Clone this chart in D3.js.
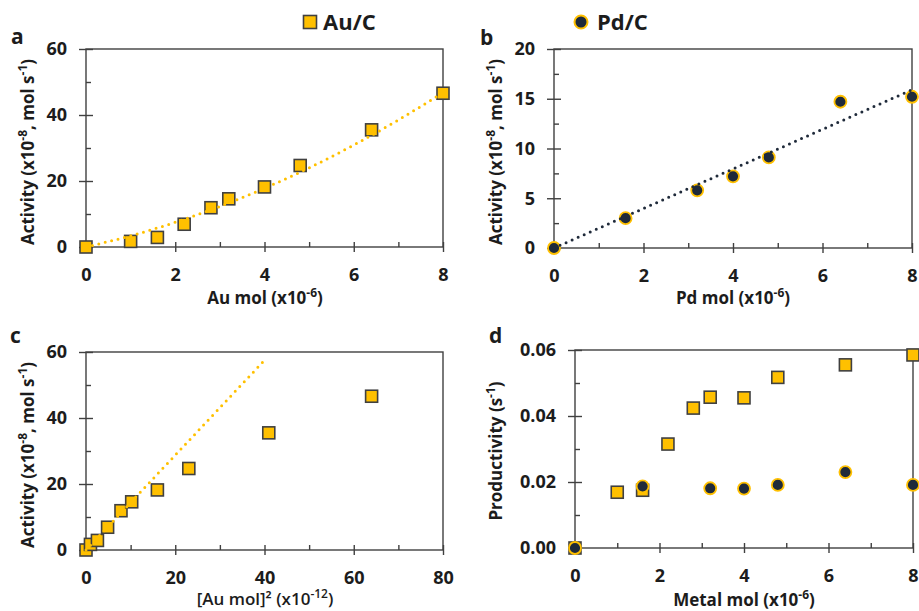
<!DOCTYPE html>
<html><head><meta charset="utf-8">
<script src="https://cdn.jsdelivr.net/npm/d3@7"></script>
<style>
body{margin:0;background:#fff}
text{font-family:"Open Sans",Lato,sans-serif;}
</style>
</head><body>
<svg id="chart" width="919" height="611"></svg>
<script>
// ---- data ----
const auMol = [0, 1, 1.6, 2.2, 2.8, 3.2, 4, 4.8, 6.4, 8];
const auActivity = [0, 1.7, 2.9, 6.9, 11.9, 14.6, 18.2, 24.7, 35.5, 46.6];
const auMolSq = [0, 1, 2.56, 4.84, 7.84, 10.24, 16, 23.04, 40.96, 64];
const pdMol = [0, 1.6, 3.2, 4, 4.8, 6.4, 8];
const pdActivity = [0, 3.0, 5.8, 7.2, 9.1, 14.7, 15.2];
const auProductivity = [0, 0.0169, 0.0175, 0.0315, 0.0424, 0.0457, 0.0455, 0.0517, 0.0555, 0.0585];
const pdProductivity = [0, 0.0187, 0.0181, 0.0180, 0.0191, 0.0230, 0.0191];
// trendlines
const auTrendX = [0, 1, 2, 3, 4, 5, 6, 7, 8];
const auTrendY = [0, 3.4, 7.5, 12.3, 17.8, 24.0, 30.9, 38.5, 46.8];
const pdTrendX = [0, 8];
const pdTrendY = [0, 15.9];
const auSqTrendX = [0, 40];
const auSqTrendY = [0, 57.5];
// ticks
const molTicks = [0, 2, 4, 6, 8];
const molMinor = [1, 3, 5, 7];
const sqTicks = [0, 20, 40, 60, 80];
const sqMinor = [10, 30, 50, 70];
const act60Ticks = [0, 20, 40, 60];
const act60Minor = [10, 30, 50];
const act20Ticks = [0, 5, 10, 15, 20];
const act20Minor = [2.5, 7.5, 12.5, 17.5];
const prodTicks = [0, 0.02, 0.04, 0.06];
const prodMinor = [0.01, 0.03, 0.05];

const GOLD = "#FFC000", NAVY = "#1F2A3A", AX = "#404040", TXT = "#1c1c1c";
const FONT = "'Open Sans', Lato, sans-serif";
const TS = 17, SS = 12;
const svg = d3.select("#chart");

function addText(sel, parts) {
  parts.forEach(p => {
    if (typeof p === "string") sel.append("tspan").text(p);
    else sel.append("tspan").attr("font-size", p.size || SS).attr("dy", p.dy).text(p.t);
  });
}
const actTitle = ["Activity (x10", {t: "-8", dy: -7}, {t: ", mol s", dy: 7, size: TS}, {t: "-1", dy: -7}, {t: ")", dy: 7, size: TS}];

function panel(c) {
  const g = svg.append("g");
  const x = d3.scaleLinear().domain(c.xd).range([c.l, c.r]);
  const y = d3.scaleLinear().domain(c.yd).range([c.b, c.t]);
  g.append("rect").attr("x", c.l).attr("y", c.t).attr("width", c.r - c.l).attr("height", c.b - c.t)
    .attr("fill", "none").attr("stroke", AX).attr("stroke-width", 1.4);
  const style = s => {
    s.select(".domain").remove();
    s.selectAll(".tick line").attr("stroke", AX).attr("stroke-width", 1.4);
    s.selectAll(".tick text").attr("font-size", 18).attr("font-weight", "bold").attr("fill", TXT)
      .attr("font-family", FONT);
  };
  g.append("g").attr("transform", `translate(0,${c.b})`)
    .call(d3.axisBottom(x).tickValues(c.xt).tickSize(5).tickPadding(16).tickFormat(c.xf || d3.format("d"))).call(style);
  g.append("g").attr("transform", `translate(0,${c.b})`)
    .call(d3.axisTop(x).tickValues(c.xt).tickSize(5).tickFormat("")).call(style);
  g.append("g").attr("transform", `translate(0,${c.b})`)
    .call(d3.axisTop(x).tickValues(c.xm).tickSize(5).tickFormat("")).call(style);
  g.append("g").attr("transform", `translate(${c.l},0)`)
    .call(d3.axisLeft(y).tickValues(c.yt).tickSize(7).tickPadding(12).tickFormat(c.yf || d3.format("d"))).call(style);
  g.append("g").attr("transform", `translate(${c.l},0)`)
    .call(d3.axisRight(y).tickValues(c.yt).tickSize(7).tickFormat("")).call(style);
  g.append("g").attr("transform", `translate(${c.l},0)`)
    .call(d3.axisRight(y).tickValues(c.ym).tickSize(5).tickFormat("")).call(style);

  // panel label
  g.append("text").attr("x", c.lab[0]).attr("y", c.lab[1]).attr("font-size", 21).attr("font-weight", "bold")
    .attr("fill", TXT).text(c.label);
  // x title
  const xt = g.append("text").attr("x", c.xtp[0]).attr("y", c.xtp[1]).attr("text-anchor", "middle")
    .attr("font-size", TS).attr("font-weight", c.xtWeight || "bold").attr("fill", TXT);
  addText(xt, c.xtitle);
  // y title
  const yt = g.append("text").attr("transform", `translate(${c.ytp[0]},${c.ytp[1]}) rotate(-90)`)
    .attr("text-anchor", "middle").attr("font-size", TS).attr("font-weight", "bold").attr("fill", TXT);
  addText(yt, c.ytitle);
  return {g, x, y};
}

function squares(p, xs, ys) {
  p.g.append("g").selectAll("rect").data(xs).join("rect")
    .attr("x", (d) => p.x(d) - 6).attr("y", (d, i) => p.y(ys[i]) - 6)
    .attr("width", 12).attr("height", 12)
    .attr("fill", GOLD).attr("stroke", AX).attr("stroke-width", 1.6);
}
function circles(p, xs, ys) {
  p.g.append("g").selectAll("circle").data(xs).join("circle")
    .attr("cx", d => p.x(d)).attr("cy", (d, i) => p.y(ys[i])).attr("r", 6)
    .attr("fill", NAVY).attr("stroke", GOLD).attr("stroke-width", 1.8);
}
function trend(p, xs, ys, color) {
  const line = d3.line().x(d => p.x(d[0])).y(d => p.y(d[1])).curve(d3.curveMonotoneX);
  p.g.append("path").datum(xs.map((d, i) => [d, ys[i]])).attr("d", line)
    .attr("fill", "none").attr("stroke", color).attr("stroke-width", 3)
    .attr("stroke-linecap", "round").attr("stroke-dasharray", "0,6.6");
}

// a
const pa = panel({l: 86, r: 443, t: 49, b: 247, xd: [0, 8], yd: [0, 60], xt: molTicks, xm: molMinor, yt: act60Ticks, ym: act60Minor,
  label: "a", lab: [11, 44], xtitle: ["Au mol (x10", {t: "-6", dy: -7}, {t: ")", dy: 7, size: TS}], xtp: [265, 304],
  ytitle: actTitle, ytp: [34, 152]});
squares(pa, auMol, auActivity);
trend(pa, auTrendX, auTrendY, GOLD);

// b
const pb = panel({l: 554, r: 912, t: 49, b: 248, xd: [0, 8], yd: [0, 20], xt: molTicks, xm: molMinor, yt: act20Ticks, ym: act20Minor,
  label: "b", lab: [480, 45], xtitle: ["Pd mol (x10", {t: "-6", dy: -7}, {t: ")", dy: 7, size: TS}], xtp: [733, 304],
  ytitle: actTitle, ytp: [502, 152]});
circles(pb, pdMol, pdActivity);
trend(pb, pdTrendX, pdTrendY, NAVY);

// c
const pc = panel({l: 86, r: 443, t: 352, b: 550, xd: [0, 80], yd: [0, 60], xt: sqTicks, xm: sqMinor, yt: act60Ticks, ym: act60Minor,
  label: "c", lab: [10, 343], xtitle: ["[Au mol]² (x10", {t: "-12", dy: -7}, {t: ")", dy: 7, size: TS}], xtp: [265, 605],
  xtWeight: 600, ytitle: actTitle, ytp: [34, 455]});
squares(pc, auMolSq, auActivity);
trend(pc, auSqTrendX, auSqTrendY, GOLD);

// d
const pd = panel({l: 575, r: 913, t: 350, b: 548, xd: [0, 8], yd: [0, 0.06], xt: molTicks, xm: molMinor, yt: prodTicks, ym: prodMinor,
  yf: d3.format(".2f"), label: "d", lab: [489, 343],
  xtitle: ["Metal mol (x10", {t: "-6", dy: -7}, {t: ")", dy: 7, size: TS}], xtp: [744, 606],
  ytitle: ["Productivity (s", {t: "-1", dy: -7}, {t: ")", dy: 7, size: TS}], ytp: [502, 451]});
squares(pd, auMol, auProductivity);
circles(pd, pdMol, pdProductivity);

// legend
const lg = svg.append("g");
lg.append("rect").attr("x", 303.5).attr("y", 15.5).attr("width", 13).attr("height", 13)
  .attr("fill", GOLD).attr("stroke", AX).attr("stroke-width", 1.6);
lg.append("text").attr("x", 323).attr("y", 30).attr("font-size", 22).attr("font-weight", "bold").attr("fill", TXT).text("Au/C");
lg.append("circle").attr("cx", 581).attr("cy", 22).attr("r", 6.5).attr("fill", NAVY).attr("stroke", GOLD).attr("stroke-width", 2);
lg.append("text").attr("x", 597).attr("y", 30).attr("font-size", 22).attr("font-weight", "bold").attr("fill", TXT).text("Pd/C");
</script>
</body></html>
